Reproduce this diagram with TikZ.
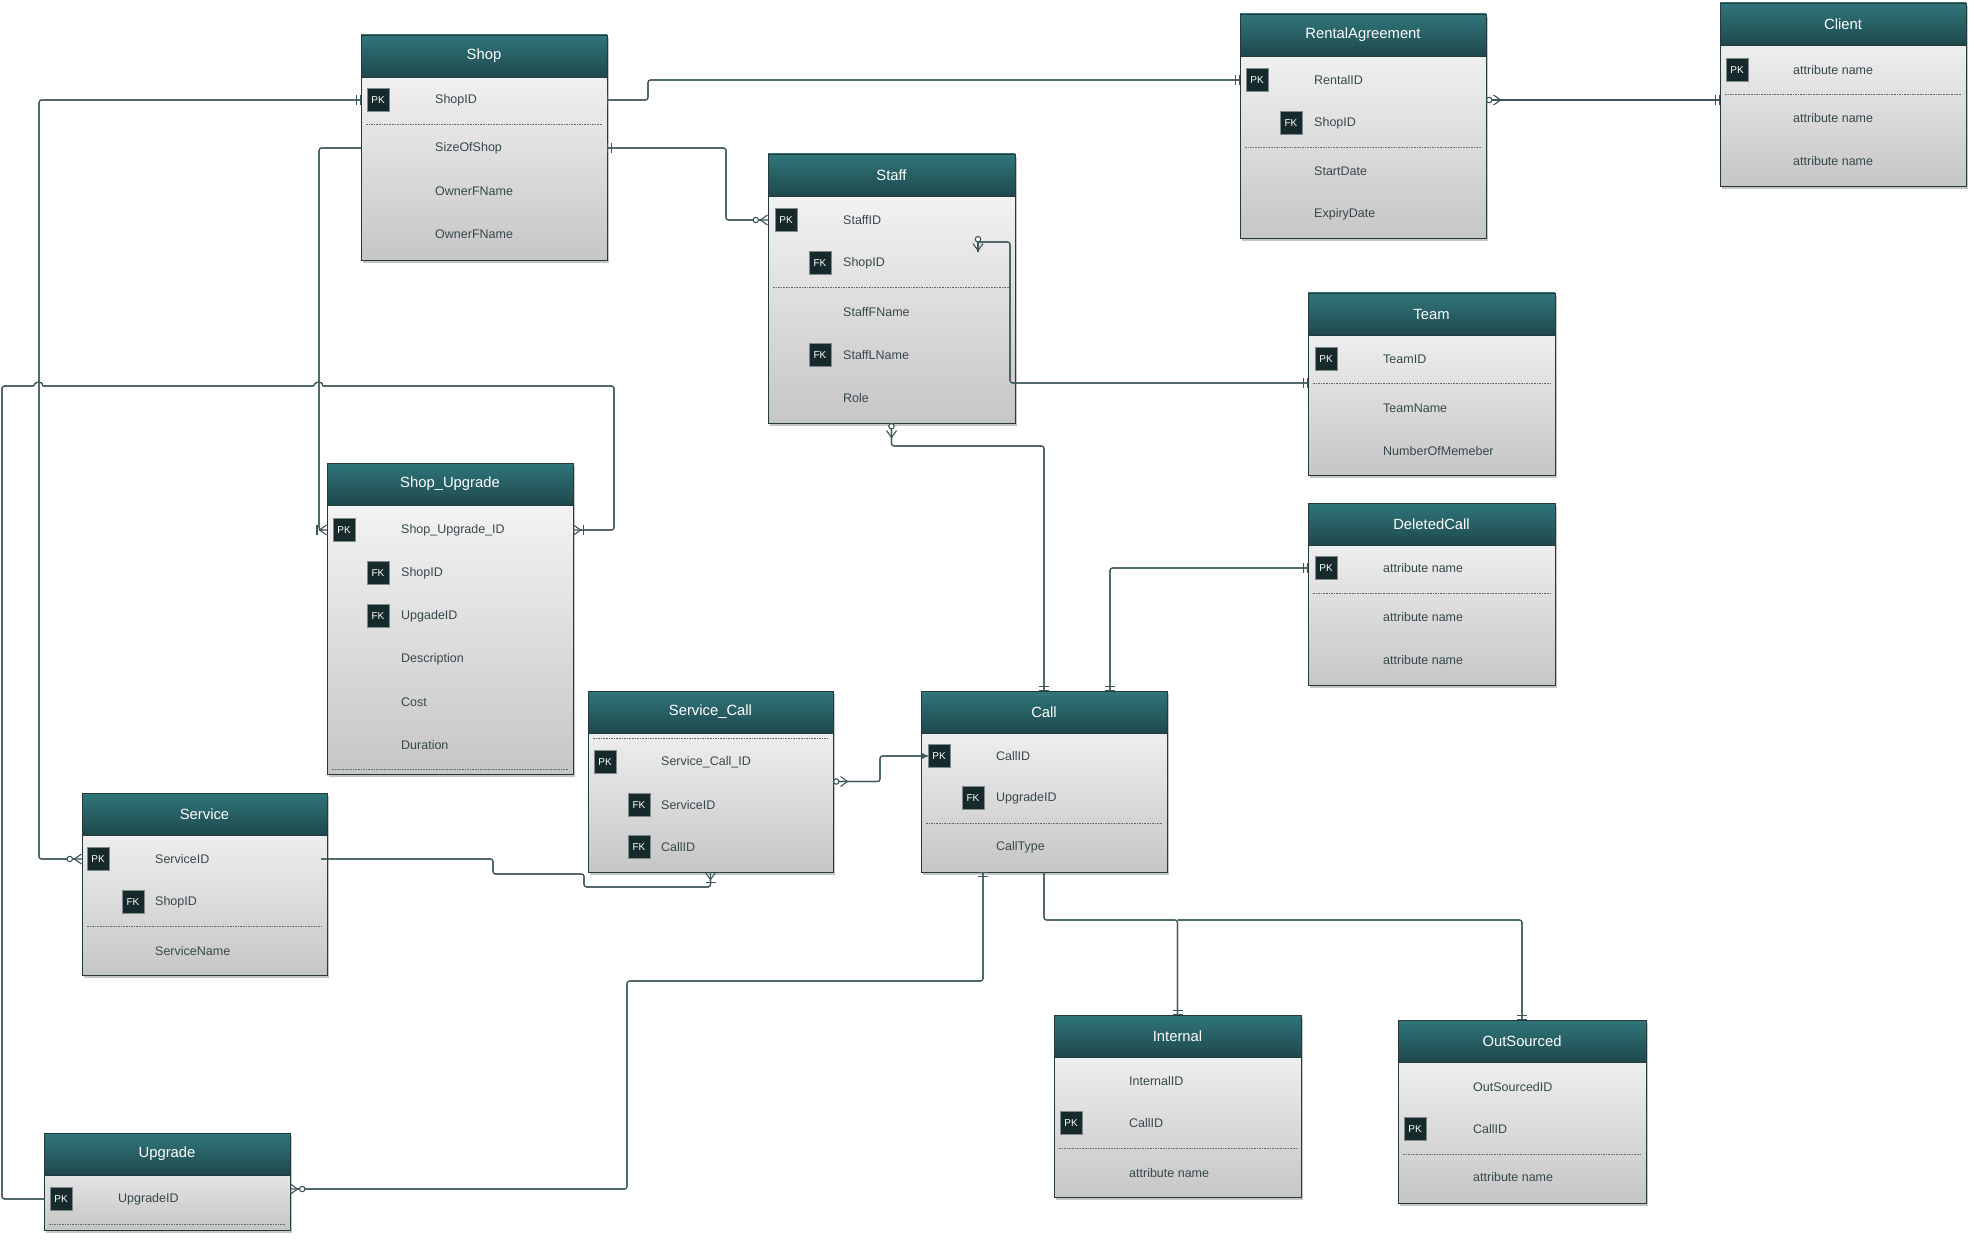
\documentclass[tikz,border=0pt]{standalone}
\usepackage{fontspec}
\setmainfont{Liberation Sans}
\usepackage{xcolor}
\usepackage{tikz}
\usetikzlibrary{arrows.meta, shadows}

\definecolor{headtop}{RGB}{48,118,123}
\definecolor{headbot}{RGB}{30,72,76}
\definecolor{bodytop}{RGB}{250,250,250}
\definecolor{bodybot}{RGB}{198,198,198}
\definecolor{edgecol}{RGB}{38,58,60}
\definecolor{keycol}{RGB}{22,42,44}
\definecolor{attrcol}{RGB}{54,72,75}
\definecolor{linkcol}{RGB}{60,86,89}

% crow's foot ends
\tikzset{
    erone/.tip={Bar[width=10pt]},
    ermone/.tip={Bar[width=10pt,sep=2.5pt] Bar[width=10pt]},
    erzmany/.tip={Circle[length=6.5pt,fill=white,sep=0.5pt] Straight Barb[reversed,length=7pt,width=10pt]},
    erzmanyS/.tip={Straight Barb[reversed,length=7pt,width=10pt,sep=0.5pt] Circle[length=6.5pt,fill=white]},
    eromany/.tip={Bar[width=10pt,sep=1pt] Straight Barb[reversed,length=7pt,width=10pt]},
    eromanyS/.tip={Straight Barb[reversed,length=7pt,width=10pt,sep=1pt] Bar[width=10pt]}
}

\begin{document}
\begin{tikzpicture}[
    x=1pt, y=-1pt,
    font=\fontsize{12.5}{14}\selectfont,
    entbody/.style={draw=edgecol, line width=0.9pt, top color=bodytop, bottom color=bodybot, inner sep=0pt, outer sep=0pt, anchor=north west, drop shadow={shadow xshift=1.5pt, shadow yshift=-3pt, opacity=0.45}},
    enthead/.style={draw=edgecol, line width=0.9pt, top color=headtop, bottom color=headbot, text=white, font=\fontsize{14.8}{17}\selectfont, minimum height=42pt, inner sep=0pt, outer sep=0pt, anchor=north west},
    attr/.style={anchor=west, text=attrcol, inner sep=0pt},
    keybox/.style={fill=keycol, draw=edgecol!60, line width=0.4pt, text=white, font=\fontsize{10}{12}\selectfont, minimum width=22pt, minimum height=23pt, inner sep=0pt},
    sepline/.style={draw=attrcol!80, line width=0.8pt, dash pattern=on 1.6pt off 1pt},
    conn/.style={draw=linkcol, line width=1.1pt, rounded corners=2.5pt, preaction={draw=linkcol, line width=1.1pt, arrows=-}}
]

    \fill[white] (0,0) rectangle (1974,1241);
    \useasboundingbox (0,0) rectangle (1974,1241);

    % --- Shop ---
    \node[entbody, minimum width=246pt, minimum height=225pt] (shop) at (361,35) {};
    \node[enthead, minimum width=246pt] (shop-h) at (361,35) {Shop};
    \node[keybox] (shop-pk) at (378,100) {PK};
    \foreach \y/\txt [count=\i] in {100/ShopID, 148/SizeOfShop, 191/OwnerFName, 234/OwnerFName}
        \node[attr] (shop-a\i) at (435,\y) {\txt};
    \draw[sepline] (366,124) -- (602,124);

    % --- Staff ---
    \node[entbody, minimum width=247pt, minimum height=269pt] (staff) at (768,154) {};
    \node[enthead, minimum width=247pt] (staff-h) at (768,154) {Staff};
    \node[keybox] (staff-pk) at (786,220) {PK};
    \node[keybox] (staff-fk1) at (820,263) {FK};
    \node[keybox] (staff-fk2) at (820,355) {FK};
    \foreach \y/\txt [count=\i] in {220/StaffID, 263/ShopID, 312/StaffFName, 355/StaffLName, 398/Role}
        \node[attr] (staff-a\i) at (843,\y) {\txt};
    \draw[sepline] (773,287) -- (1010,287);

    % --- RentalAgreement ---
    \node[entbody, minimum width=246pt, minimum height=224pt] (ra) at (1240,14) {};
    \node[enthead, minimum width=246pt] (ra-h) at (1240,14) {RentalAgreement};
    \node[keybox] (ra-pk) at (1257,80) {PK};
    \node[keybox] (ra-fk) at (1291,123) {FK};
    \foreach \y/\txt [count=\i] in {80/RentalID, 123/ShopID, 171/StartDate, 214/ExpiryDate}
        \node[attr] (ra-a\i) at (1314,\y) {\txt};
    \draw[sepline] (1245,147) -- (1481,147);

    % --- Client ---
    \node[entbody, minimum width=246pt, minimum height=183pt] (client) at (1720,3) {};
    \node[enthead, minimum width=246pt] (client-h) at (1720,3) {Client};
    \node[keybox] (client-pk) at (1737,70) {PK};
    \foreach \y/\txt [count=\i] in {70/attribute name, 118/attribute name, 161/attribute name}
        \node[attr] (client-a\i) at (1793,\y) {\txt};
    \draw[sepline] (1725,94) -- (1961,94);

    % --- Team ---
    \node[entbody, minimum width=247pt, minimum height=182pt] (team) at (1308,293) {};
    \node[enthead, minimum width=247pt] (team-h) at (1308,293) {Team};
    \node[keybox] (team-pk) at (1326,359) {PK};
    \foreach \y/\txt [count=\i] in {359/TeamID, 408/TeamName, 451/NumberOfMemeber}
        \node[attr] (team-a\i) at (1383,\y) {\txt};
    \draw[sepline] (1313,383) coordinate (team-sep) -- (1550,383);

    % --- DeletedCall ---
    \node[entbody, minimum width=247pt, minimum height=182pt] (dc) at (1308,503) {};
    \node[enthead, minimum width=247pt] (dc-h) at (1308,503) {DeletedCall};
    \node[keybox] (dc-pk) at (1326,568) {PK};
    \foreach \y/\txt [count=\i] in {568/attribute name, 617/attribute name, 660/attribute name}
        \node[attr] (dc-a\i) at (1383,\y) {\txt};
    \draw[sepline] (1313,593) -- (1550,593);

    % --- Shop_Upgrade ---
    \node[entbody, minimum width=246pt, minimum height=311pt] (sup) at (327,463) {};
    \node[enthead, minimum width=246pt] (sup-h) at (327,463) {Shop\_Upgrade};
    \node[keybox] (sup-pk) at (344,530) {PK};
    \node[keybox] (sup-fk1) at (378,573) {FK};
    \node[keybox] (sup-fk2) at (378,616) {FK};
    \foreach \y/\txt [count=\i] in {530/Shop\_Upgrade\_ID, 573/ShopID, 616/UpgadeID, 659/Description, 702/Cost, 745/Duration}
        \node[attr] (sup-a\i) at (401,\y) {\txt};
    \draw[sepline] (332,769) -- (568,769);

    % --- Service ---
    \node[entbody, minimum width=245pt, minimum height=182pt] (service) at (82,793) {};
    \node[enthead, minimum width=245pt] (service-h) at (82,793) {Service};
    \node[keybox] (service-pk) at (98,859) {PK};
    \node[keybox] (service-fk) at (133,902) {FK};
    \foreach \y/\txt [count=\i] in {859/ServiceID, 902/ShopID, 951/ServiceName}
        \node[attr] (service-a\i) at (155,\y) {\txt};
    \draw[sepline] (87,926) -- (322,926);

    % --- Service_Call ---
    \node[entbody, minimum width=245pt, minimum height=181pt] (sc) at (588,691) {};
    \node[enthead, minimum width=245pt] (sc-h) at (588,691) {Service\_Call};
    \node[keybox] (sc-pk) at (605,762) {PK};
    \node[keybox] (sc-fk1) at (639,805) {FK};
    \node[keybox] (sc-fk2) at (639,847) {FK};
    \foreach \y/\txt [count=\i] in {762/Service\_Call\_ID, 805/ServiceID, 847/CallID}
        \node[attr] (sc-a\i) at (661,\y) {\txt};
    \draw[sepline] (593,738) -- (828,738);

    % --- Call ---
    \node[entbody, minimum width=246pt, minimum height=181pt] (call) at (921,691) {};
    \node[enthead, minimum width=246pt] (call-h) at (921,691) {Call};
    \node[keybox] (call-pk) at (939,756) {PK};
    \node[keybox] (call-fk) at (973,798) {FK};
    \foreach \y/\txt [count=\i] in {756/CallID, 798/UpgradeID, 847/CallType}
        \node[attr] (call-a\i) at (996,\y) {\txt};
    \draw[sepline] (926,823) -- (1162,823);

    % --- Internal ---
    \node[entbody, minimum width=247pt, minimum height=182pt] (internal) at (1054,1015) {};
    \node[enthead, minimum width=247pt] (internal-h) at (1054,1015) {Internal};
    \node[keybox] (internal-pk) at (1071,1123) {PK};
    \foreach \y/\txt [count=\i] in {1081/InternalID, 1123/CallID, 1173/attribute name}
        \node[attr] (internal-a\i) at (1129,\y) {\txt};
    \draw[sepline] (1059,1148) -- (1296,1148);

    % --- OutSourced ---
    \node[entbody, minimum width=248pt, minimum height=183pt] (outsourced) at (1398,1020) {};
    \node[enthead, minimum width=248pt] (outsourced-h) at (1398,1020) {OutSourced};
    \node[keybox] (outsourced-pk) at (1415,1129) {PK};
    \foreach \y/\txt [count=\i] in {1087/OutSourcedID, 1129/CallID, 1177/attribute name}
        \node[attr] (outsourced-a\i) at (1473,\y) {\txt};
    \draw[sepline] (1403,1154) -- (1641,1154);

    % --- Upgrade ---
    \node[entbody, minimum width=246pt, minimum height=97pt] (upgrade) at (44,1133) {};
    \node[enthead, minimum width=246pt] (upgrade-h) at (44,1133) {Upgrade};
    \node[keybox] (upgrade-pk) at (61,1199) {PK};
    \node[attr] (upgrade-a1) at (118,1199) {UpgradeID};
    \draw[sepline] (49,1224) -- (285,1224);

    % --- Relationships ---
    \draw[conn, {erone}-{ermone}] (shop.east |- shop-a1) -- ++(41,0) |- (ra.west |- ra-a1);
    \draw[conn, {ermone}-{erzmany}] (shop.east |- shop-a2) -- ++(119,0) |- (staff.west |- staff-a1);
    \draw[conn, {ermone}-{erzmany}] (shop.west |- shop-a1) -- ++(-322,0) |- (service.west |- service-a1);
    \draw[conn, -{eromany}] (shop.west |- shop-a2) -- ++(-42,0) |- (sup.west |- sup-a1);
    \draw[conn, -{eromany}] (upgrade.west |- upgrade-a1) -- ++(-42,0) -- ++(0,-813) -- ++(33,0)
        [sharp corners] arc[start angle=180, end angle=0, radius=4pt]
        [rounded corners=2.5pt] -- ++(272,0)
        [sharp corners] arc[start angle=180, end angle=0, radius=4pt]
        [rounded corners=2.5pt] -- ++(291,0) |- (sup.east |- sup-a1);
    \draw[conn, {erzmanyS}-{ermone}] ([yshift=23pt]ra.east |- ra-a2) -- ([yshift=23pt]client.west |- ra-a2);

    \coordinate (staff-hook) at (978,242);
    \draw[conn, {erzmanyS}-] ([yshift=6pt]staff-hook) -- ([yshift=-10pt]staff-hook);
    \draw[conn, -{ermone}] (staff-hook) -- ++(32,0) |- (team.west |- team-sep);
    \draw[conn, {erzmanyS}-{ermone}] (staff.south) -- ++(0,23) -| (call.north);
    \draw[conn, {ermone}-{ermone}] ([xshift=66pt]call.north) |- (dc.west |- dc-a1);

    \draw[conn, {erzmanyS}-{Triangle[length=7pt,width=7pt]}] (sc.east) -- ++(47,0) |- (call-pk.west);
    \draw[conn, -{eromany}] ([xshift=-6pt]service.east |- service-a1) -- ++(172,0) -- ++(0,15) -- ++(91,0) -- ++(0,13) -| (sc.south);

    \draw[conn, -{ermone}] (call.south) -- ++(0,48) coordinate (call-bus) -| (internal.north);
    \draw[conn, -{ermone}] (call-bus -| internal.north) -| (outsourced.north);
    \draw[conn, {ermone}-{erzmany}] ([xshift=-61pt]call.south) -- ++(0,109) -- ++(-356,0) |- ([yshift=10pt]upgrade.east |- upgrade-a1);
\end{tikzpicture}
\end{document}
